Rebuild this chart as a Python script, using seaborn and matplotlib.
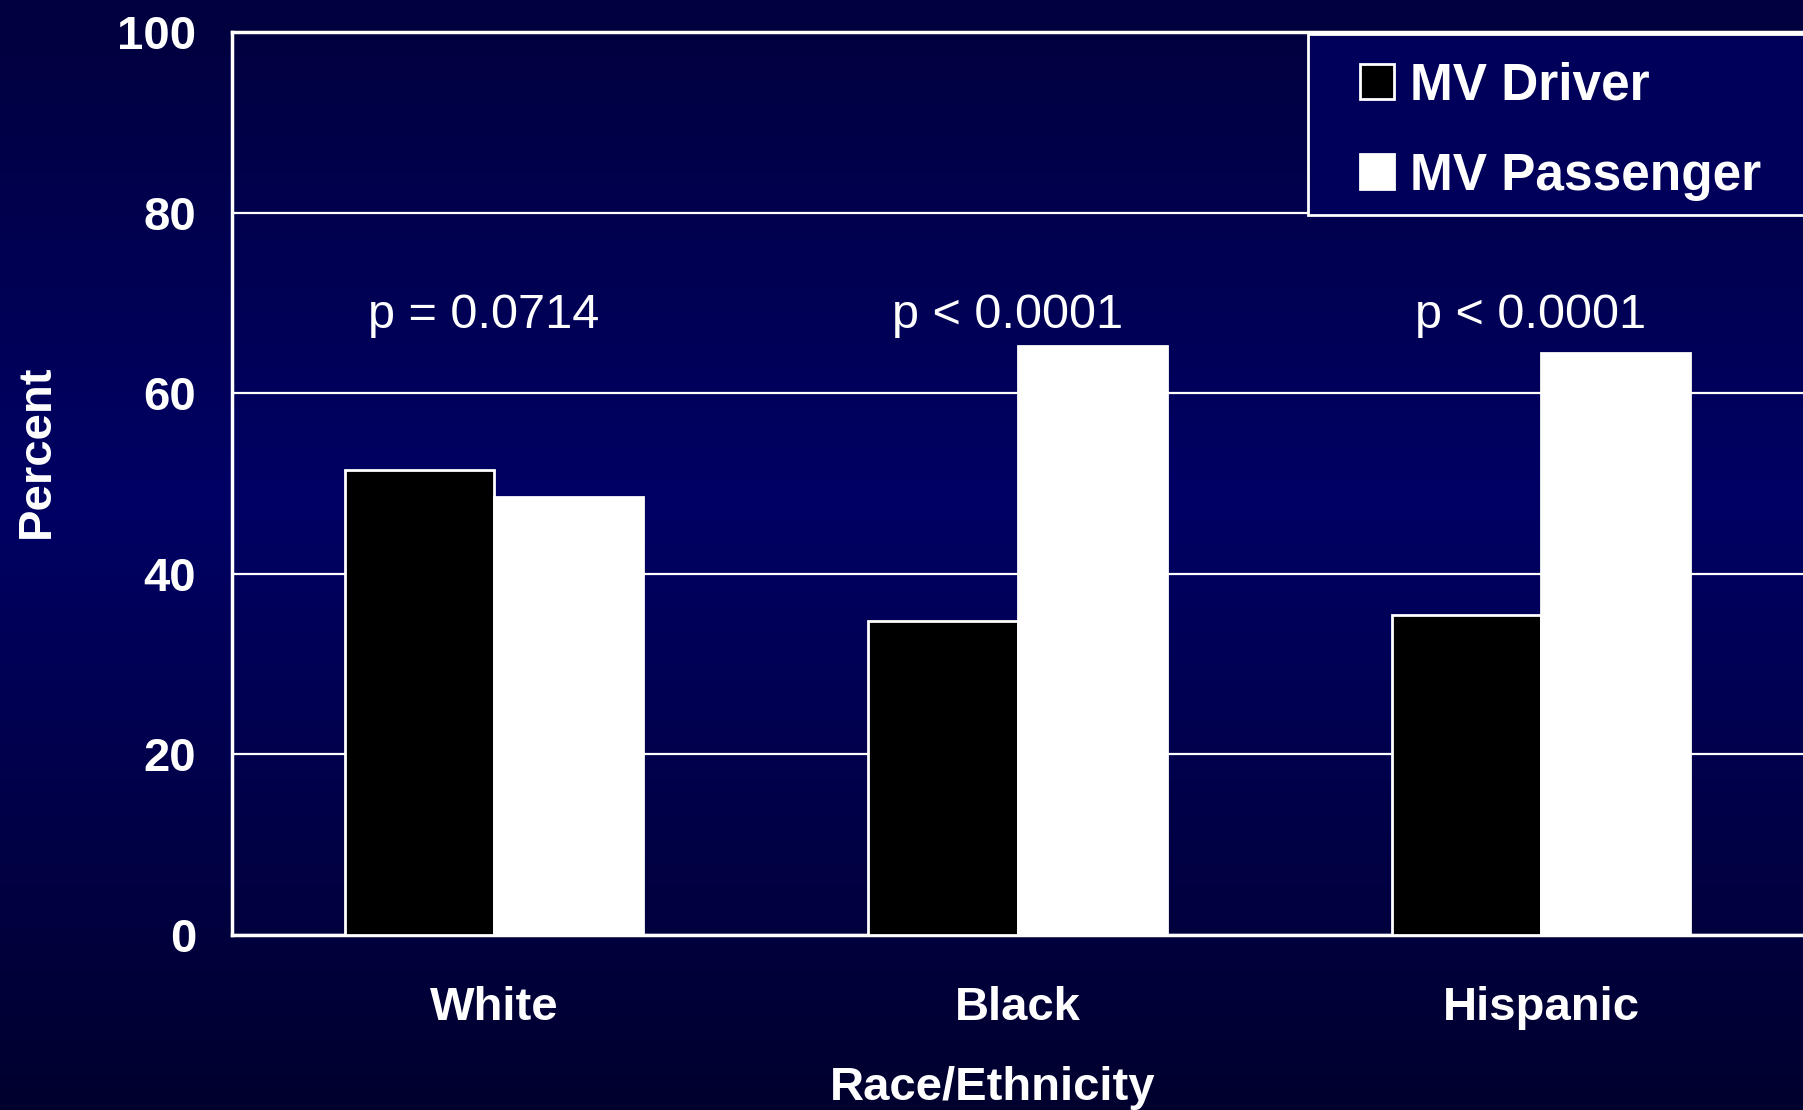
import numpy as np
import pandas as pd
import matplotlib
matplotlib.use("Agg")
import matplotlib.pyplot as plt
from matplotlib.colors import LinearSegmentedColormap
from matplotlib.patches import Rectangle
import seaborn as sns

# Data
groups = ["White", "Black", "Hispanic"]
driver_pct = [51.5, 34.8, 35.4]
passenger_pct = [48.5, 65.2, 64.5]
series_names = ["MV Driver", "MV Passenger"]
p_labels = ["p = 0.0714", "p < 0.0001", "p < 0.0001"]
y_ticks = [0, 20, 40, 60, 80, 100]

df = pd.DataFrame({
    "Race/Ethnicity": groups * 2,
    "Percent": driver_pct + passenger_pct,
    "Mode": [series_names[0]] * len(groups) + [series_names[1]] * len(groups),
})

sns.set_theme(style="white")
plt.rcParams["font.family"] = ["Liberation Sans", "DejaVu Sans"]

fig = plt.figure(figsize=(18.03, 11.10), dpi=100)

# Navy gradient backdrop
bg = fig.add_axes([0, 0, 1, 1], zorder=-10)
bg.axis("off")
cmap = LinearSegmentedColormap.from_list(
    "navy", [(0.0, "#00003e"), (0.45, "#000064"), (1.0, "#00002e")]
)
grad = np.linspace(0, 1, 256).reshape(-1, 1)
bg.imshow(grad, aspect="auto", cmap=cmap, extent=[0, 1, 0, 1], origin="upper")

ax = fig.add_axes([0.1288, 0.1577, 0.8712, 0.8135])
ax.set_facecolor("none")

sns.barplot(
    data=df, x="Race/Ethnicity", y="Percent", hue="Mode",
    palette=["black", "white"], width=0.57, gap=0,
    edgecolor="white", linewidth=2, saturation=1, ax=ax, zorder=3,
)

ax.set_xlim(-0.5, 2.5)
ax.set_ylim(0, 100)
ax.set_yticks(y_ticks)
ax.yaxis.grid(True, color="white", linewidth=1.6, zorder=0)
ax.xaxis.grid(False)
ax.set_axisbelow(True)

for side in ["top", "left", "bottom"]:
    ax.spines[side].set_visible(True)
    ax.spines[side].set_color("white")
    ax.spines[side].set_linewidth(2.5)
ax.spines["right"].set_visible(False)

ax.tick_params(axis="y", length=0, pad=26, labelsize=34, labelcolor="white")
ax.tick_params(axis="x", length=0, pad=37, labelsize=34, labelcolor="white")
for lab in ax.get_xticklabels() + ax.get_yticklabels():
    lab.set_fontweight("bold")

ax.set_xlabel("Race/Ethnicity", fontsize=34, fontweight="bold", color="white")
ax.xaxis.set_label_coords(0.484, -0.169)
ax.xaxis.label.set_va("center")
ax.set_ylabel("Percent", fontsize=34, fontweight="bold", color="white")
ax.yaxis.set_label_coords(-0.1245, 0.536)
ax.yaxis.label.set_va("center")

for i, txt in enumerate(p_labels):
    ax.text(i - 0.02, 67.2, txt, ha="center", va="baseline",
            fontsize=35, color="white")

# Legend box, running off the right edge
ax.add_patch(Rectangle((0.6846, 0.797), 0.34, 0.2002, transform=ax.transAxes,
                       facecolor="#00005a", edgecolor="white", linewidth=2,
                       clip_on=False, zorder=5))

leg = ax.legend(
    loc="upper left", bbox_to_anchor=(0.718, 0.967), fontsize=37,
    frameon=False,
    handlelength=0.67, handleheight=0.67, handletextpad=0.31,
    labelspacing=0.795, borderpad=0, borderaxespad=0,
)
leg.set_zorder(6)
for t in leg.get_texts():
    t.set_color("white")
    t.set_fontweight("bold")

fig.savefig("out.png", dpi=100, facecolor="#000050")
